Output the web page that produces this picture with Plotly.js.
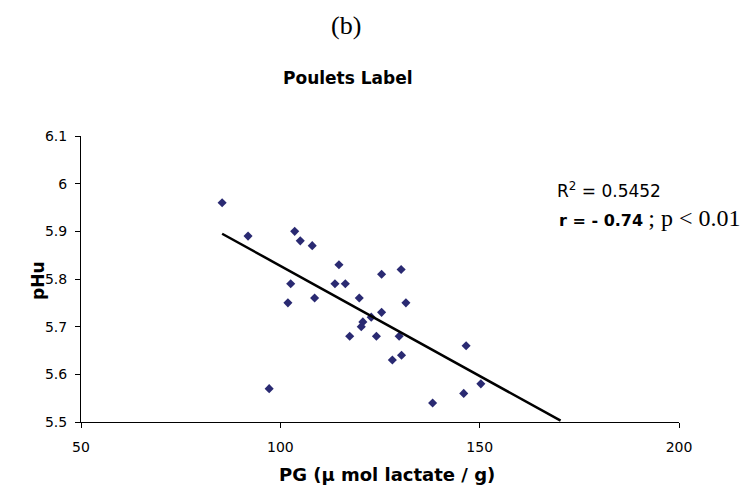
<!DOCTYPE html>
<html>
<head>
<meta charset="utf-8">
<script src="https://cdn.plot.ly/plotly-3.0.1.min.js"></script>
<style>html,body{margin:0;padding:0;background:#fff;}#chart{width:752px;height:497px;}</style>
</head>
<body>
<div id="chart"></div>
<script>
// Data
const pgValues = [85.4, 91.9, 103.6, 105.0, 108.0, 114.7, 125.4, 130.3, 102.6, 113.7,
                  116.3, 108.6, 119.8, 101.9, 131.5, 125.4, 122.8, 120.7, 120.3, 117.4,
                  124.1, 129.8, 146.6, 130.4, 128.1, 150.3, 97.2, 146.0, 138.2];
const phuValues = [5.96, 5.89, 5.90, 5.88, 5.87, 5.83, 5.81, 5.82, 5.79, 5.79,
                   5.79, 5.76, 5.76, 5.75, 5.75, 5.73, 5.72, 5.71, 5.70, 5.68,
                   5.68, 5.68, 5.66, 5.64, 5.63, 5.58, 5.57, 5.56, 5.54];
const trendForward = 20; // trendline extended forward (x units)
const xTicks = [50, 100, 150, 200];
const yTicks = [5.5, 5.6, 5.7, 5.8, 5.9, 6, 6.1];
const yTickLabels = ["5.5", "5.6", "5.7", "5.8", "5.9", "6", "6.1"];

// least-squares fit
const n = pgValues.length;
const mx = pgValues.reduce((a, b) => a + b, 0) / n;
const my = phuValues.reduce((a, b) => a + b, 0) / n;
let sxy = 0, sxx = 0;
for (let i = 0; i < n; i++) { sxy += (pgValues[i] - mx) * (phuValues[i] - my); sxx += (pgValues[i] - mx) ** 2; }
const slope = sxy / sxx, intercept = my - slope * mx;
const x0 = Math.min(...pgValues), x1 = Math.max(...pgValues) + trendForward;
const trendX = [x0, x1];
const trendY = trendX.map(x => intercept + slope * x);

const L = 81, R = 73, T = 136, B = 75, W = 752, H = 497;
const pw = W - L - R, ph = H - T - B;
const px = x => (x - L) / pw;
const py = y => (H - B - y) / ph;

const traces = [
  {x: pgValues, y: phuValues, type: 'scatter', mode: 'markers',
   marker: {symbol: 'diamond', size: 7, color: '#2a2a72'}, hoverinfo: 'x+y'},
  {x: trendX, y: trendY, type: 'scatter', mode: 'lines',
   line: {color: '#000', width: 2.5}, hoverinfo: 'skip'}
];

const SANS = 'DejaVu Sans, Arial, sans-serif';
const SERIF = 'Liberation Serif, Times New Roman, serif';
const axisFont = {family: SANS, size: 14, color: '#000'};
function ann(text, x, y, size, extra) {
  return Object.assign({text: text, xref: 'paper', yref: 'paper', x: px(x), y: py(y),
    xanchor: 'center', yanchor: 'middle', showarrow: false,
    font: {family: SANS, size: size, color: '#000'}}, extra || {});
}
const layout = {
  width: W, height: H, showlegend: false,
  paper_bgcolor: '#fff', plot_bgcolor: '#fff',
  margin: {l: L, r: R, t: T, b: B, pad: 0},
  xaxis: {range: [50, 200], tickvals: xTicks, ticktext: xTicks.map(String), ticks: 'outside', ticklen: 5,
          tickcolor: '#000', showline: true, linecolor: '#000', linewidth: 1, showgrid: false, zeroline: false,
          tickfont: axisFont, ticklabelstandoff: 7, fixedrange: true},
  yaxis: {range: [5.5, 6.1], tickvals: yTicks, ticktext: yTickLabels, ticks: 'outside', ticklen: 5,
          tickcolor: '#000', showline: true, linecolor: '#000', linewidth: 1, showgrid: false, zeroline: false,
          tickfont: axisFont, ticklabelstandoff: 5, fixedrange: true},
  annotations: [
    ann('(b)', 346, 25, 26, {font: {family: SERIF, size: 26, color: '#000'}}),
    ann('<b>Poulets Label</b>', 348, 78, 17),
    ann('<b>PG (µ mol lactate / g)</b>', 387, 474, 18),
    ann('<b>pHu</b>', 38, 281, 17, {textangle: -90}),
    ann('R<sup>2</sup> = 0.5452', 555, 190, 17, {xanchor: 'left'}),
    ann('<b>r = - 0.74</b> <span style="font-family:Liberation Serif, Times New Roman, serif;font-size:24px">; p &lt; 0.01</span>',
        557, 218, 16, {xanchor: 'left'})
  ]
};
Plotly.newPlot('chart', traces, layout, {displayModeBar: false, staticPlot: true});
</script>
</body>
</html>
